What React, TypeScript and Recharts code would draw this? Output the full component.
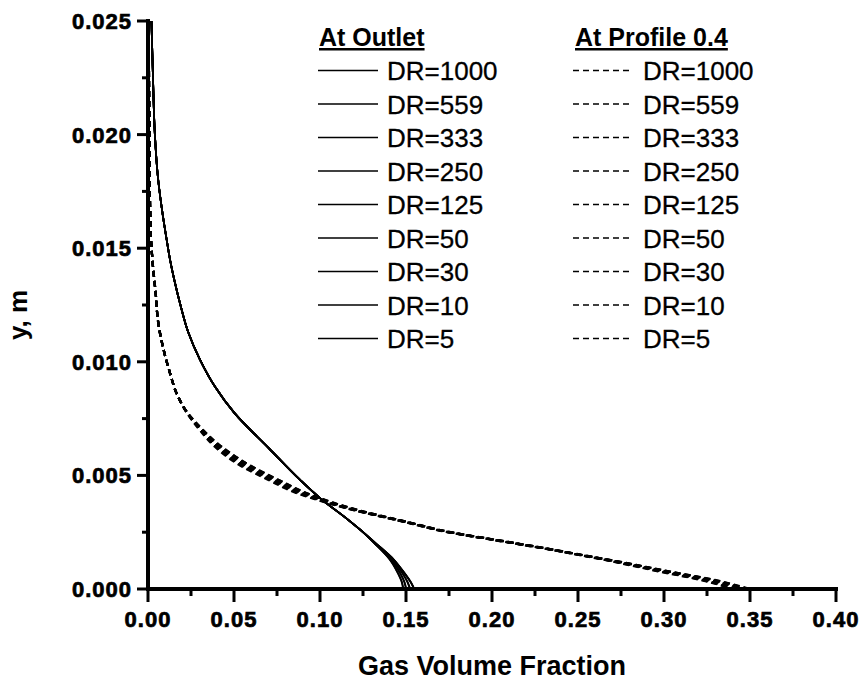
import { LineChart, Line, XAxis, YAxis } from 'recharts';

// series labels (same order in both legend columns)
const drLabels = ['DR=1000', 'DR=559', 'DR=333', 'DR=250', 'DR=125', 'DR=50', 'DR=30', 'DR=10', 'DR=5'];

const xTicks = [0, 0.025, 0.05, 0.075, 0.1, 0.125, 0.15, 0.175, 0.2, 0.225, 0.25, 0.275, 0.3, 0.325, 0.35, 0.375, 0.4];
const yTicks = [0, 0.0025, 0.005, 0.0075, 0.01, 0.0125, 0.015, 0.0175, 0.02, 0.0225, 0.025];

// At Outlet (solid) - y positions, shared upper part, per-series bottom tails
const outletY = [0.025, 0.0225, 0.02, 0.0181, 0.0164, 0.0154, 0.0145, 0.0136, 0.0124, 0.0113, 0.0101, 0.0089, 0.00775, 0.0062, 0.0048, 0.004, 0.0031, 0.0026, 0.002, 0.0013, 0.0007, 0.0003, 0];
const outletUpperX = [0.002, 0.0029, 0.004, 0.0058, 0.0087, 0.0108, 0.0128, 0.0153, 0.0192, 0.0234, 0.0302, 0.039, 0.0502, 0.0702, 0.0884, 0.1, 0.1155, 0.1235];
const outletTailX = [
  [0.1318, 0.1405, 0.1452, 0.1475, 0.1483],
  [0.1318, 0.1406, 0.1454, 0.1477, 0.1485],
  [0.132, 0.1412, 0.1465, 0.149, 0.15],
  [0.132, 0.1413, 0.1467, 0.1492, 0.1502],
  [0.1323, 0.142, 0.1478, 0.1508, 0.1523],
  [0.1323, 0.1421, 0.148, 0.151, 0.1525],
  [0.1326, 0.1428, 0.149, 0.1527, 0.1547],
  [0.1326, 0.1428, 0.149, 0.1527, 0.1547],
  [0.1327, 0.1429, 0.1492, 0.1529, 0.1549],
];

// At Profile 0.4 (dashed)
const profileY = [0.025, 0.02, 0.016, 0.0142, 0.013, 0.0118, 0.01065, 0.0095, 0.0086, 0.00775, 0.007, 0.00625, 0.00537, 0.0048, 0.00423, 0.00379, 0.00348, 0.00295, 0.0025, 0.00218, 0.00186, 0.00152, 0.00116, 0.00077, 0.0004, 0];
const profileUpperX = [0.0004, 0.0008, 0.0014, 0.0029, 0.0045, 0.0058, 0.0087, 0.0128, 0.0167];
const profileTailX = [
  [0.0226, 0.03, 0.039, 0.055, 0.07, 0.086, 0.104, 0.119, 0.149, 0.174, 0.199, 0.224, 0.249, 0.273, 0.297, 0.321, 0.34],
  [0.0227, 0.0305, 0.04, 0.056, 0.071, 0.087, 0.105, 0.1195, 0.1495, 0.1745, 0.1995, 0.2245, 0.2495, 0.274, 0.298, 0.322, 0.341],
  [0.0227, 0.0305, 0.04, 0.057, 0.072, 0.088, 0.105, 0.1195, 0.1495, 0.1745, 0.1995, 0.2245, 0.2495, 0.2745, 0.299, 0.323, 0.3425],
  [0.0228, 0.031, 0.041, 0.058, 0.073, 0.089, 0.106, 0.12, 0.15, 0.175, 0.2, 0.225, 0.25, 0.275, 0.3, 0.325, 0.345],
  [0.0228, 0.031, 0.041, 0.058, 0.073, 0.089, 0.106, 0.12, 0.15, 0.175, 0.2, 0.225, 0.25, 0.2755, 0.301, 0.326, 0.346],
  [0.0229, 0.0315, 0.042, 0.059, 0.074, 0.09, 0.107, 0.121, 0.1505, 0.1755, 0.2005, 0.2255, 0.2505, 0.276, 0.302, 0.327, 0.347],
  [0.023, 0.0315, 0.042, 0.06, 0.075, 0.091, 0.107, 0.121, 0.1505, 0.1755, 0.2005, 0.2255, 0.2505, 0.2765, 0.3025, 0.328, 0.348],
  [0.0231, 0.032, 0.043, 0.061, 0.076, 0.092, 0.108, 0.122, 0.151, 0.176, 0.201, 0.226, 0.251, 0.277, 0.303, 0.329, 0.349],
  [0.0231, 0.032, 0.043, 0.061, 0.076, 0.092, 0.108, 0.122, 0.151, 0.176, 0.201, 0.226, 0.251, 0.277, 0.3035, 0.3295, 0.35],
];

const FONT = '"Liberation Sans", Arial, Helvetica, sans-serif';
const DASH = '6 4';

function buildPoints(ys: number[], upper: number[], tail: number[]) {
  return ys.map((y, i) => ({ x: i < upper.length ? upper[i] : tail[i - upper.length], y }));
}

const outletSeries = drLabels.map((name, i) => ({ name, points: buildPoints(outletY, outletUpperX, outletTailX[i]) }));
const profileSeries = drLabels.map((name, i) => ({ name, points: buildPoints(profileY, profileUpperX, profileTailX[i]) }));

const tickText = {
  fontFamily: FONT,
  fontWeight: 'bold' as const,
  fontSize: 22,
  letterSpacing: 1,
  fill: '#000',
  stroke: '#000',
  strokeWidth: 0.7,
};

function XTick(props: any) {
  const { x, y, payload, index } = props;
  const major = index % 2 === 0;
  return (
    <g>
      <line x1={x} x2={x} y1={y} y2={y + (major ? 13 : 7)} stroke="#000" strokeWidth={3} />
      {major && (
        <text x={x} y={y + 38} textAnchor="middle" {...tickText}>
          {payload.value.toFixed(2)}
        </text>
      )}
    </g>
  );
}

function YTick(props: any) {
  const { x, y, payload, index } = props;
  const major = index % 2 === 0;
  return (
    <g>
      <line x1={x} x2={x - (major ? 11 : 6)} y1={y} y2={y} stroke="#000" strokeWidth={3} />
      {major && (
        <text x={x - 16} y={y} dy="0.36em" textAnchor="end" {...tickText}>
          {payload.value.toFixed(3)}
        </text>
      )}
    </g>
  );
}

function XTitle(props: any) {
  const vb = props.viewBox || { x: 148, y: 589, width: 688, height: 86 };
  return (
    <text x={vb.x + vb.width / 2} y={vb.y + 86} textAnchor="middle" fontFamily={FONT} fontWeight="bold" fontSize={27} fill="#000">
      Gas Volume Fraction
    </text>
  );
}

function YTitle(props: any) {
  const vb = props.viewBox || { x: 8, y: 21, width: 140, height: 568 };
  const cx = vb.x + 19;
  const cy = vb.y + vb.height / 2 + 10;
  return (
    <text x={cx} y={cy} transform={`rotate(-90 ${cx} ${cy})`} textAnchor="middle" fontFamily={FONT} fontWeight="bold" fontSize={26} fill="#000">
      y, m
    </text>
  );
}

function LegendBlock() {
  const rowY = (i: number) => 80 + i * 33.5;
  return (
    <svg width={862} height={685} style={{ position: 'absolute', left: 0, top: 0, pointerEvents: 'none' }}>
      <text x={319} y={46} fontFamily={FONT} fontWeight="bold" fontSize={25} textDecoration="underline" fill="#000">At Outlet</text>
      <text x={575} y={46} fontFamily={FONT} fontWeight="bold" fontSize={25} textDecoration="underline" fill="#000">At Profile 0.4</text>
      {outletSeries.map((s, i) => (
        <g key={'o' + s.name}>
          <line x1={318} x2={378} y1={rowY(i) - 9.5} y2={rowY(i) - 9.5} stroke="#000" strokeWidth={1.6} />
          <text x={387} y={rowY(i)} fontFamily={FONT} fontSize={26} fill="#000" stroke="#000" strokeWidth={0.3}>{s.name}</text>
        </g>
      ))}
      {profileSeries.map((s, i) => (
        <g key={'p' + s.name}>
          <line x1={573} x2={633} y1={rowY(i) - 9.5} y2={rowY(i) - 9.5} stroke="#000" strokeWidth={1.6} strokeDasharray={DASH} />
          <text x={643} y={rowY(i)} fontFamily={FONT} fontSize={26} fill="#000" stroke="#000" strokeWidth={0.3}>{s.name}</text>
        </g>
      ))}
    </svg>
  );
}

export default function App() {
  return (
    <div style={{ position: 'absolute', left: 0, top: 0, width: 862, height: 685, background: '#fff' }}>
      <LineChart layout="vertical" width={862} height={685} margin={{ top: 21, right: 26, bottom: 10, left: 8 }}>
        <XAxis
          type="number"
          dataKey="x"
          domain={[0, 0.4]}
          ticks={xTicks}
          interval={0}
          tickSize={0}
          tickMargin={0}
          tickLine={false}
          tick={(p: any) => <XTick {...p} />}
          axisLine={{ stroke: '#000', strokeWidth: 4, strokeLinecap: 'square' }}
          height={86}
          label={<XTitle />}
        />
        <YAxis
          type="number"
          dataKey="y"
          domain={[0, 0.025]}
          reversed
          ticks={yTicks}
          interval={0}
          tickSize={0}
          tickMargin={0}
          tickLine={false}
          tick={(p: any) => <YTick {...p} />}
          axisLine={{ stroke: '#000', strokeWidth: 4, strokeLinecap: 'square' }}
          width={140}
          label={<YTitle />}
        />
        {outletSeries.map((s) => (
          <Line
            key={'outlet-' + s.name}
            data={s.points}
            dataKey="x"
            name={s.name}
            type="monotone"
            stroke="#000"
            strokeWidth={1.7}
            dot={false}
            activeDot={false}
            isAnimationActive={false}
          />
        ))}
        {profileSeries.map((s) => (
          <Line
            key={'profile-' + s.name}
            data={s.points}
            dataKey="x"
            name={s.name}
            type="monotone"
            stroke="#000"
            strokeWidth={2.2}
            strokeDasharray={DASH}
            dot={false}
            activeDot={false}
            isAnimationActive={false}
          />
        ))}
      </LineChart>
      <LegendBlock />
    </div>
  );
}
